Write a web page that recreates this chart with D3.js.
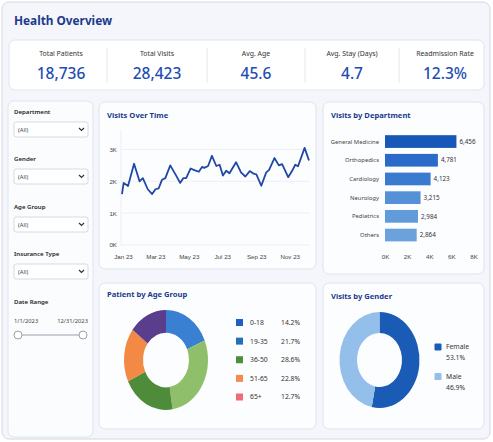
<!DOCTYPE html>
<html>
<head>
<meta charset="utf-8">
<script src="https://cdn.jsdelivr.net/npm/d3@7"></script>
<style>
    body { margin: 0; background: #ffffff; }
    svg { display: block; font-family: "Noto Sans", "Open Sans", sans-serif; }
    .card-title { font-size: 7.6px; font-weight: 700; fill: #1b3a8c; }
    .axis text { font-size: 6.2px; fill: #444; }
</style>
</head>
<body>
<svg id="dash" width="493" height="442"></svg>
<script>
/*
----------------------------------------------------
    Data
----------------------------------------------------
*/
var kpiLabels = ["Total Patients", "Total Visits", "Avg. Age", "Avg. Stay (Days)", "Readmission Rate"];
var kpiValues = ["18,736", "28,423", "45.6", "4.7", "12.3%"];

var filterLabels = ["Department", "Gender", "Age Group", "Insurance Type"];
var dateRange = ["1/1/2023", "12/31/2023"];

// Visits over time
var visitDates = ["2023-01-01", "2023-01-04", "2023-01-12", "2023-01-23", "2023-02-02", "2023-02-08",
    "2023-02-17", "2023-02-25", "2023-03-03", "2023-03-09", "2023-03-15", "2023-03-21", "2023-03-30",
    "2023-04-09", "2023-04-17", "2023-04-23", "2023-04-28", "2023-05-06", "2023-05-13", "2023-05-21",
    "2023-05-27", "2023-05-31", "2023-06-07", "2023-06-14", "2023-06-22", "2023-06-28", "2023-07-04",
    "2023-07-10", "2023-07-16", "2023-07-28", "2023-08-06", "2023-08-14", "2023-08-22", "2023-08-29",
    "2023-09-03", "2023-09-12", "2023-09-21", "2023-09-26", "2023-10-06", "2023-10-14", "2023-10-20",
    "2023-10-31", "2023-11-07", "2023-11-13", "2023-11-18", "2023-11-30", "2023-12-08"];
var visitValues = [1600, 1950, 1850, 2550, 2000, 2100,
    1750, 1600, 1750, 1780, 2050, 2100, 2500,
    2200, 1950, 2100, 2100, 2400, 2350, 2300,
    2450, 2420, 2480, 2800, 2480, 2520, 2180,
    2330, 2250, 2600, 2280, 2150, 2320, 2240,
    2220, 1860, 2280, 2350, 2730, 2500, 2540,
    2130, 2320, 2520, 2470, 3050, 2650];
var visitTicks = [0, 1000, 2000, 3000];

var departments = ["General Medicine", "Orthopedics", "Cardiology", "Neurology", "Pediatrics", "Others"];
var deptVisits = [6456, 4781, 4123, 3215, 2984, 2864];
var deptColors = ["#1657b8", "#2a6bc9", "#3b7bcf", "#5690d6", "#629bd9", "#6ba2dc"];
var deptTicks = [0, 2000, 4000, 6000, 8000];

var ageGroups = ["0-18", "19-35", "36-50", "51-65", "65+"];
var agePct = [14.2, 21.7, 28.6, 22.8, 12.7];
var ageLegendColors = ["#1f5fc4", "#2470b8", "#4a8f3c", "#f58a4c", "#f26b70"];
// donut slices as drawn (clockwise from top)
var ageSlices = [18.6, 28.9, 20.5, 17.3, 14.7];
var ageSliceColors = ["#3a80d2", "#8fbf6a", "#4e8c3a", "#f28a46", "#5a3d8c"];

var genders = ["Female", "Male"];
var genderPct = [53.1, 46.9];
var genderColors = ["#1a5bb5", "#93bfea"];

/*
----------------------------------------------------
    Helpers
----------------------------------------------------
*/
var svg = d3.select("#dash");

function card(x, y, w, h, fill) {
    svg.append("rect")
        .attr("x", x).attr("y", y)
        .attr("width", w).attr("height", h)
        .attr("rx", 6)
        .attr("fill", fill || "#fcfdff")
        .attr("stroke", "#dfe4ec")
        .attr("stroke-width", 1);
}

function cardTitle(x, y, text) {
    svg.append("text")
        .attr("class", "card-title")
        .attr("x", x).attr("y", y)
        .text(text);
}

// outer frame
svg.append("rect")
    .attr("x", 2).attr("y", 2)
    .attr("width", 488).attr("height", 437)
    .attr("rx", 7)
    .attr("fill", "#f4f6fb")
    .attr("stroke", "#d4d8e0");

svg.append("text")
    .attr("x", 14).attr("y", 24.5)
    .attr("font-size", 11.8)
    .attr("font-weight", 700)
    .attr("fill", "#1b3a8c")
    .text("Health Overview");

/*
----------------------------------------------------
    KPI strip
----------------------------------------------------
*/
card(9, 40, 475, 50, "#ffffff");
var kpiCenters = [61, 157, 256, 352, 445];
var kpiDividers = [107, 207, 305, 399];
kpiDividers.forEach(function (x) {
    svg.append("line")
        .attr("x1", x).attr("x2", x)
        .attr("y1", 48).attr("y2", 83)
        .attr("stroke", "#e2e6ed");
});
kpiLabels.forEach(function (d, i) {
    svg.append("text")
        .attr("x", kpiCenters[i]).attr("y", 55.5)
        .attr("text-anchor", "middle")
        .attr("font-size", 6.9)
        .attr("fill", "#333")
        .text(d);
    svg.append("text")
        .attr("x", kpiCenters[i]).attr("y", 78.5)
        .attr("text-anchor", "middle")
        .attr("font-size", 15.5)
        .attr("font-weight", 500)
        .attr("fill", "#1d4db5")
        .text(kpiValues[i]);
});

/*
----------------------------------------------------
    Filters
----------------------------------------------------
*/
card(8, 101, 85, 336, "#fbfcfe");
var filterY = [114, 161, 209, 256];
filterLabels.forEach(function (d, i) {
    var y = filterY[i];
    svg.append("text")
        .attr("x", 14).attr("y", y)
        .attr("font-size", 6.1)
        .attr("font-weight", 600)
        .attr("fill", "#222")
        .text(d);
    svg.append("rect")
        .attr("x", 14).attr("y", y + 8)
        .attr("width", 74).attr("height", 15)
        .attr("rx", 2)
        .attr("fill", "#fff")
        .attr("stroke", "#d5dae2");
    svg.append("text")
        .attr("x", 18).attr("y", y + 18)
        .attr("font-size", 5.8)
        .attr("fill", "#444")
        .text("(All)");
    svg.append("path")
        .attr("d", "M79," + (y + 14) + " l2.5,2.5 l2.5,-2.5")
        .attr("fill", "none")
        .attr("stroke", "#333")
        .attr("stroke-width", 1.2);
});

svg.append("text")
    .attr("x", 14).attr("y", 304)
    .attr("font-size", 6.1)
    .attr("font-weight", 600)
    .attr("fill", "#222")
    .text("Date Range");
svg.append("text")
    .attr("x", 14).attr("y", 323)
    .attr("font-size", 5.8).attr("fill", "#444")
    .text(dateRange[0]);
svg.append("text")
    .attr("x", 88).attr("y", 323)
    .attr("text-anchor", "end")
    .attr("font-size", 5.8).attr("fill", "#444")
    .text(dateRange[1]);
svg.append("line")
    .attr("x1", 18).attr("x2", 83)
    .attr("y1", 335).attr("y2", 335)
    .attr("stroke", "#b8bec8").attr("stroke-width", 1.5);
[18, 83].forEach(function (cx) {
    svg.append("circle")
        .attr("cx", cx).attr("cy", 335).attr("r", 4)
        .attr("fill", "#fff")
        .attr("stroke", "#9aa1ab");
});

/*
----------------------------------------------------
    Visits Over Time
----------------------------------------------------
*/
card(99, 102, 217, 167);
cardTitle(107, 118, "Visits Over Time");

var parse = d3.timeParse("%Y-%m-%d");
var lineData = visitDates.map(function (d, i) { return { date: parse(d), value: visitValues[i] }; });

var xTime = d3.scaleTime()
    .domain([parse("2023-01-01"), parse("2023-12-08")])
    .range([122, 309]);
var yVisits = d3.scaleLinear()
    .domain([0, 3500])
    .range([245, 133.5]);

// grid
svg.append("g")
    .selectAll("line")
    .data(visitTicks)
    .enter()
    .append("line")
    .attr("x1", 121).attr("x2", 310)
    .attr("y1", function (d) { return yVisits(d); })
    .attr("y2", function (d) { return yVisits(d); })
    .attr("stroke", "#eceff4");
svg.append("line")
    .attr("x1", 121).attr("x2", 121)
    .attr("y1", 130).attr("y2", 246)
    .attr("stroke", "#eceff4");

var yAxisG = svg.append("g")
    .attr("class", "axis")
    .attr("transform", "translate(117,0)")
    .call(d3.axisLeft(yVisits).tickValues(visitTicks).tickSize(0).tickFormat(function (d) { return d / 1000 + "K"; }));
yAxisG.select(".domain").remove();
yAxisG.selectAll("text").attr("x", 0);

var xAxisG = svg.append("g")
    .attr("class", "axis")
    .attr("transform", "translate(1,252)")
    .call(d3.axisBottom(xTime).ticks(d3.timeMonth.every(2)).tickSize(0).tickFormat(d3.timeFormat("%b %y")));
xAxisG.select(".domain").remove();

var line = d3.line()
    .x(function (d) { return xTime(d.date); })
    .y(function (d) { return yVisits(d.value); });
svg.append("path")
    .datum(lineData)
    .attr("d", line)
    .attr("fill", "none")
    .attr("stroke", "#1f48a6")
    .attr("stroke-width", 1.8)
    .attr("stroke-linejoin", "round");

/*
----------------------------------------------------
    Visits by Department
----------------------------------------------------
*/
card(323, 102, 161, 172);
cardTitle(331, 118, "Visits by Department");

var xDept = d3.scaleLinear().domain([0, 8000]).range([385, 473.5]);
var yDept = d3.scaleBand().domain(departments).range([132.2, 244.4]).paddingInner(0.32).paddingOuter(0.16);

svg.append("g")
    .selectAll("rect")
    .data(departments)
    .enter()
    .append("rect")
    .attr("x", xDept(0))
    .attr("y", function (d) { return yDept(d); })
    .attr("width", function (d, i) { return xDept(deptVisits[i]) - xDept(0); })
    .attr("height", yDept.bandwidth())
    .attr("fill", function (d, i) { return deptColors[i]; });

departments.forEach(function (d, i) {
    var cy = yDept(d) + yDept.bandwidth() / 2;
    svg.append("text")
        .attr("x", 379).attr("y", cy)
        .attr("dy", "0.35em")
        .attr("text-anchor", "end")
        .attr("font-size", 5.9)
        .attr("fill", "#444")
        .text(d);
    svg.append("text")
        .attr("x", xDept(deptVisits[i]) + 3).attr("y", cy)
        .attr("dy", "0.35em")
        .attr("font-size", 6.3)
        .attr("fill", "#333")
        .text(d3.format(",")(deptVisits[i]));
});

var deptAxis = svg.append("g")
    .attr("class", "axis")
    .attr("transform", "translate(0,252)")
    .call(d3.axisBottom(xDept).tickValues(deptTicks).tickSize(0).tickFormat(function (d) { return d / 1000 + "K"; }));
deptAxis.select(".domain").remove();

/*
----------------------------------------------------
    Patient by Age Group
----------------------------------------------------
*/
card(99, 283, 217, 146);
cardTitle(107, 297, "Patient by Age Group");

var pie = d3.pie().sort(null).value(function (d) { return d; });
var ageArc = d3.arc().innerRadius(23).outerRadius(42);

svg.append("g")
    .attr("transform", "translate(166,360) scale(1,1.19)")
    .selectAll("path")
    .data(pie(ageSlices))
    .enter()
    .append("path")
    .attr("d", ageArc)
    .attr("fill", function (d, i) { return ageSliceColors[i]; });

var ageLegendY = d3.scalePoint().domain(ageGroups).range([322.5, 397]);
ageGroups.forEach(function (d, i) {
    var y = ageLegendY(d);
    svg.append("rect")
        .attr("x", 236).attr("y", y - 3.5)
        .attr("width", 7).attr("height", 7)
        .attr("fill", ageLegendColors[i]);
    svg.append("text")
        .attr("x", 250).attr("y", y)
        .attr("dy", "0.35em")
        .attr("font-size", 6.8)
        .attr("fill", "#333")
        .text(d);
    svg.append("text")
        .attr("x", 281).attr("y", y)
        .attr("dy", "0.35em")
        .attr("font-size", 6.8)
        .attr("fill", "#333")
        .text(agePct[i].toFixed(1) + "%");
});

/*
----------------------------------------------------
    Visits by Gender
----------------------------------------------------
*/
card(323, 283, 161, 146);
cardTitle(331, 299, "Visits by Gender");

var genderArc = d3.arc().innerRadius(22.5).outerRadius(40);
svg.append("g")
    .attr("transform", "translate(379.5,360) scale(1,1.2)")
    .selectAll("path")
    .data(pie(genderPct))
    .enter()
    .append("path")
    .attr("d", genderArc)
    .attr("fill", function (d, i) { return genderColors[i]; });

genders.forEach(function (d, i) {
    var y = 347 + i * 29.5;
    svg.append("rect")
        .attr("x", 434.5).attr("y", y - 3.5)
        .attr("width", 7).attr("height", 7)
        .attr("rx", 1)
        .attr("fill", genderColors[i]);
    svg.append("text")
        .attr("x", 446).attr("y", y)
        .attr("dy", "0.35em")
        .attr("font-size", 6.8)
        .attr("fill", "#333")
        .text(d);
    svg.append("text")
        .attr("x", 446).attr("y", y + 11)
        .attr("dy", "0.35em")
        .attr("font-size", 6.8)
        .attr("fill", "#333")
        .text(genderPct[i].toFixed(1) + "%");
});
</script>
</body>
</html>
